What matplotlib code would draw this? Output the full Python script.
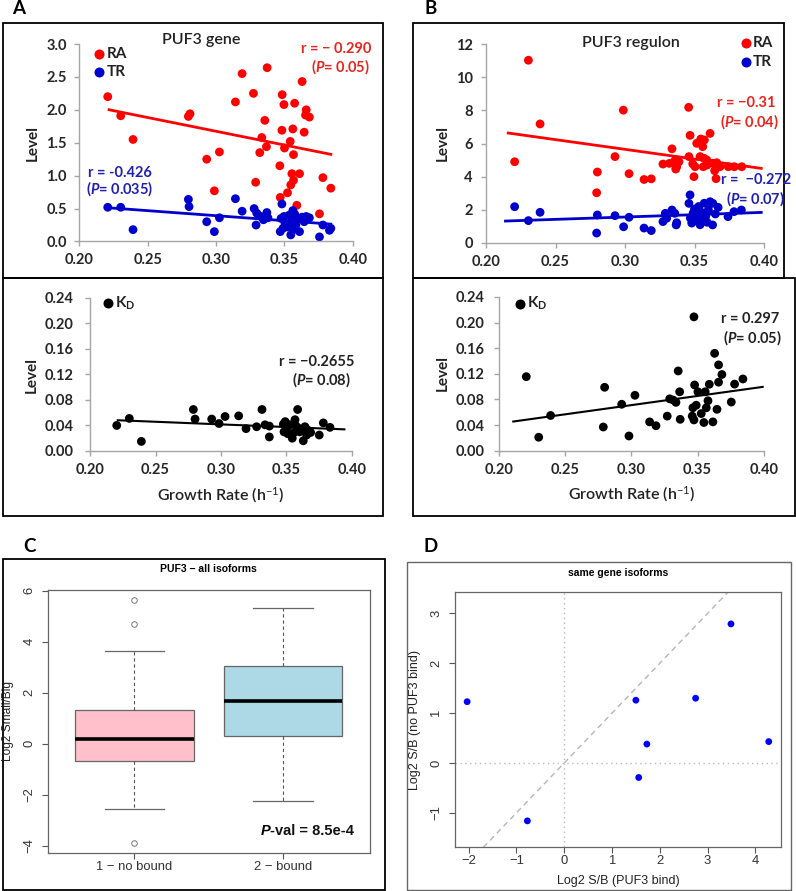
import numpy as np
import matplotlib
matplotlib.use("Agg")
import matplotlib.pyplot as plt
from matplotlib.patches import Rectangle
from matplotlib.lines import Line2D

plt.rcParams['font.family'] = ['Lato', 'DejaVu Sans']
plt.rcParams['mathtext.fontset'] = 'custom'
plt.rcParams['mathtext.rm'] = 'Lato'
plt.rcParams['mathtext.it'] = 'Lato:italic:bold'
plt.rcParams['mathtext.bf'] = 'Lato:bold'

# ---------------- data ----------------
# A top: PUF3 gene, growth rate vs level
a_ra_rate = [0.2208, 0.2303, 0.2393, 0.2798, 0.2810, 0.2932, 0.2988, 0.3025, 0.3142, 0.3191,
             0.3274, 0.3290, 0.3320, 0.3335, 0.3357, 0.3369, 0.3374, 0.3470, 0.3467, 0.3484,
             0.3482, 0.3497, 0.3501, 0.3523, 0.3543, 0.3547, 0.3555, 0.3562, 0.3567, 0.3567,
             0.3575, 0.3591, 0.3611, 0.3630, 0.3645, 0.3660, 0.3655, 0.3683, 0.3757, 0.3782, 0.3840]
a_ra_level = [2.20, 1.91, 1.55, 1.90, 1.94, 1.25, 0.77, 1.36, 2.12, 2.55,
              2.25, 0.90, 1.35, 1.58, 1.84, 1.44, 2.64, 0.67, 1.15, 2.23,
              1.69, 2.08, 1.42, 0.74, 1.52, 0.86, 1.03, 1.71, 0.93, 1.32,
              2.10, 0.55, 1.03, 2.43, 1.66, 2.00, 1.92, 1.89, 0.42, 0.97, 0.81]
a_tr_rate = [0.2208, 0.2303, 0.2393, 0.2798, 0.2803, 0.2932, 0.2988, 0.3025, 0.3142, 0.3191,
             0.3279, 0.3293, 0.3298, 0.3318, 0.3347, 0.3372, 0.3380, 0.3470, 0.3476, 0.3482,
             0.3490, 0.3497, 0.3505, 0.3523, 0.3535, 0.3547, 0.3555, 0.3562, 0.3567, 0.3575,
             0.3584, 0.3600, 0.3611, 0.3630, 0.3645, 0.3660, 0.3683, 0.3757, 0.3782, 0.3840, 0.3830]
a_tr_level = [0.52, 0.52, 0.18, 0.64, 0.53, 0.30, 0.15, 0.36, 0.65, 0.46,
              0.50, 0.25, 0.43, 0.39, 0.33, 0.44, 0.36, 0.15, 0.35, 0.57,
              0.20, 0.38, 0.28, 0.22, 0.40, 0.10, 0.30, 0.47, 0.18, 0.42,
              0.25, 0.35, 0.15, 0.37, 0.30, 0.38, 0.36, 0.07, 0.25, 0.20, 0.17]

# B top: PUF3 regulon
b_ra_rate = [0.2206, 0.2305, 0.2389, 0.2796, 0.2801, 0.2928, 0.2988, 0.3029, 0.3137, 0.3189,
             0.3273, 0.3319, 0.3338, 0.3358, 0.3372, 0.3388, 0.3365, 0.3458, 0.3468, 0.3460,
             0.3487, 0.3496, 0.3504, 0.3516, 0.3545, 0.3559, 0.3571, 0.3612, 0.3540, 0.3568,
             0.3588, 0.3563, 0.3590, 0.3631, 0.3660, 0.3683, 0.3645, 0.3655, 0.3743, 0.3786, 0.3840]
b_ra_level = [4.90, 11.02, 7.18, 3.03, 4.28, 5.21, 8.01, 4.18, 3.83, 3.87,
              4.76, 4.80, 5.68, 4.96, 4.60, 4.90, 4.46, 8.18, 6.49, 5.21,
              4.77, 4.00, 4.60, 6.01, 6.27, 5.81, 6.21, 6.61, 5.21, 5.11,
              5.01, 4.60, 4.70, 4.81, 4.84, 4.60, 4.36, 3.88, 4.60, 4.60, 4.60]
b_tr_rate = [0.2206, 0.2305, 0.2389, 0.2796, 0.2801, 0.2928, 0.2990, 0.3029, 0.3137, 0.3189,
             0.3273, 0.3290, 0.3300, 0.3338, 0.3358, 0.3372, 0.3368, 0.3468, 0.3460, 0.3470,
             0.3480, 0.3490, 0.3500, 0.3510, 0.3520, 0.3530, 0.3540, 0.3550, 0.3560, 0.3570,
             0.3580, 0.3590, 0.3600, 0.3612, 0.3630, 0.3632, 0.3650, 0.3670, 0.3741, 0.3784, 0.3837]
b_tr_level = [2.19, 1.35, 1.85, 0.60, 1.69, 1.65, 0.98, 1.55, 0.90, 0.75,
              1.29, 1.79, 1.49, 1.99, 1.79, 1.22, 1.09, 2.90, 2.39, 1.50,
              1.20, 1.80, 2.05, 1.35, 1.65, 2.20, 1.10, 1.85, 1.45, 2.40,
              1.60, 1.25, 2.00, 2.49, 1.09, 2.39, 1.75, 2.15, 1.59, 1.89, 1.99]

# A bottom / B bottom: KD
a_kd_rate = [0.2204, 0.2300, 0.2392, 0.2789, 0.2802, 0.2929, 0.2985, 0.3031, 0.3135, 0.3191,
             0.3272, 0.3313, 0.3336, 0.3369, 0.3369, 0.3476, 0.3481, 0.3490, 0.3502, 0.3510,
             0.3527, 0.3544, 0.3552, 0.3565, 0.3570, 0.3585, 0.3590, 0.3600, 0.3628, 0.3641,
             0.3654, 0.3660, 0.3684, 0.3750, 0.3781, 0.3832]
a_kd_level = [0.040, 0.051, 0.015, 0.065, 0.050, 0.050, 0.043, 0.054, 0.055, 0.035,
              0.038, 0.065, 0.041, 0.039, 0.022, 0.042, 0.030, 0.046, 0.036, 0.027,
              0.041, 0.020, 0.028, 0.049, 0.040, 0.065, 0.036, 0.030, 0.016, 0.038,
              0.025, 0.033, 0.029, 0.025, 0.044, 0.037]
b_kd_rate = [0.2206, 0.2300, 0.2390, 0.2798, 0.2788, 0.2927, 0.2982, 0.3027, 0.3138, 0.3186,
             0.3271, 0.3290, 0.3317, 0.3337, 0.3354, 0.3365, 0.3369, 0.3473, 0.3478, 0.3465,
             0.3460, 0.3473, 0.3490, 0.3503, 0.3528, 0.3548, 0.3558, 0.3566, 0.3579, 0.3589,
             0.3616, 0.3629, 0.3659, 0.3659, 0.3647, 0.3684, 0.3755, 0.3780, 0.3843]
b_kd_level = [0.1156, 0.021, 0.055, 0.099, 0.037, 0.0725, 0.023, 0.0865, 0.045, 0.039,
              0.054, 0.081, 0.079, 0.0755, 0.1245, 0.092, 0.049, 0.209, 0.1026, 0.067,
              0.054, 0.048, 0.071, 0.092, 0.058, 0.044, 0.092, 0.067, 0.078, 0.1037,
              0.045, 0.152, 0.134, 0.107, 0.0646, 0.119, 0.076, 0.104, 0.112]

# C: boxplot summary
c_groups = ['1 \u2212 no bound', '2 \u2212 bound']
c_whislo = [-2.56, -2.27]
c_q1 = [-0.70, 0.29]
c_med = [0.18, 1.65]
c_q3 = [1.30, 3.03]
c_whishi = [3.64, 5.33]
c_fliers = [[5.64, 4.70, -3.89], []]

# D: same gene isoforms
d_bind = [-2.03, -0.77, 1.50, 1.73, 1.56, 2.75, 3.49, 4.28]
d_nobind = [1.23, -1.16, 1.26, 0.38, -0.29, 1.30, 2.79, 0.43]

# ---------------- styling ----------------
W, H = 796, 891
RED = '#ff0000'
BLUE = '#0000cc'
RED_TXT = '#e8251f'
BLUE_TXT = '#2020b0'
AXIS_GREY = '#a6a6a6'
ARIAL = ['Liberation Sans', 'DejaVu Sans']

fig = plt.figure(figsize=(W / 100, H / 100), dpi=100)


def add_ax(x0, y0, x1, y1):
    # pixel box: left, top, right, bottom
    return fig.add_axes([x0 / W, 1 - y1 / H, (x1 - x0) / W, (y1 - y0) / H])


def label(px, py, s, **kw):
    kw.setdefault('ha', 'center')
    kw.setdefault('va', 'center')
    return fig.text(px / W, 1 - py / H, s, **kw)


def frame(x0, y0, x1, y1, lw=1.3, ec='black'):
    fig.add_artist(Rectangle((x0 / W, 1 - y1 / H), (x1 - x0) / W, (y1 - y0) / H,
                             fill=False, lw=lw, ec=ec, transform=fig.transFigure))


def legend_dot(px, py, color, text):
    fig.add_artist(Line2D([px / W], [1 - py / H], marker='o', ms=7.2, color=color,
                          mec='none', transform=fig.transFigure))
    label(px + 7.5, py, text, ha='left', fontsize=11, fontweight='bold', color='#222222')


def excel_style(ax, ylim, yticks, yfmt, ypad):
    ax.set_xlim(0.20, 0.40)
    ax.set_ylim(*ylim)
    xt = [0.20, 0.25, 0.30, 0.35, 0.40]
    ax.set_xticks(xt, [f'{v:.2f}' for v in xt], fontweight='bold')
    ax.set_yticks(yticks, [yfmt.format(v) for v in yticks], fontweight='bold')
    for s in ('top', 'right'):
        ax.spines[s].set_visible(False)
    for s in ('left', 'bottom'):
        ax.spines[s].set_color(AXIS_GREY)
        ax.spines[s].set_linewidth(1)
    ax.tick_params(axis='both', direction='out', length=3.5, width=1, color=AXIS_GREY,
                   labelsize=10.5, labelcolor='#262626')
    ax.tick_params(axis='y', pad=ypad)
    ax.tick_params(axis='x', pad=5)
    ax.patch.set_alpha(0)


def trend(ax, x, y, span, color, lw):
    k, b = np.polyfit(x, y, 1)
    xs = np.array(span)
    ax.plot(xs, k * xs + b, color=color, lw=lw, solid_capstyle='butt', zorder=3)


def dots(ax, x, y, color, s=40):
    ax.scatter(x, y, s=s, color=color, edgecolors='none', zorder=2, clip_on=False)


# ---------------- panel frames ----------------
frame(3, 23, 383, 278)
frame(3, 278, 383, 516)
frame(413, 23, 784, 278)
frame(413, 278, 795, 516)
frame(3, 559, 385, 890)
frame(407, 562, 791, 890, lw=1.0, ec='#666666')

for px, py, s in [(19, 9, 'A'), (431, 8, 'B'), (30, 547, 'C'), (431, 547, 'D')]:
    label(px, py, s, fontsize=13.5, fontweight='bold')

# ---------------- A top ----------------
ax = add_ax(79.3, 44, 352.7, 241.5)
excel_style(ax, (0, 3.0), [0, 0.5, 1.0, 1.5, 2.0, 2.5, 3.0], '{:.1f}', 5.5)
dots(ax, a_ra_rate, a_ra_level, RED)
dots(ax, a_tr_rate, a_tr_level, BLUE)
trend(ax, a_ra_rate, a_ra_level, [0.2208, 0.385], RED, 2.0)
trend(ax, a_tr_rate, a_tr_level, [0.2208, 0.385], BLUE, 2.0)
label(201, 40, 'PUF3 gene', fontsize=11.5, fontweight='semibold', color='#222222')
legend_dot(99, 54.3, RED, 'RA')
legend_dot(99, 72.3, BLUE, 'TR')
label(371.7, 48.7, 'r = \u2212 0.290', ha='right', fontsize=10.5, fontweight='bold', color=RED_TXT)
label(370, 66.7, '($P$= 0.05)', ha='right', fontsize=10.5, fontweight='bold', color=RED_TXT)
label(120, 172.7, 'r = -0.426', fontsize=10.5, fontweight='bold', color=BLUE_TXT)
label(119.5, 189, '($P$= 0.035)', fontsize=10.5, fontweight='bold', color=BLUE_TXT)
label(33, 143, 'Level', rotation=90, fontsize=11, fontweight='bold', color='#222222')

# ---------------- B top ----------------
ax = add_ax(486, 44, 764, 243)
excel_style(ax, (0, 12), [0, 2, 4, 6, 8, 10, 12], '{:d}', 6)
dots(ax, b_ra_rate, b_ra_level, RED)
dots(ax, b_tr_rate, b_tr_level, BLUE)
trend(ax, b_ra_rate, b_ra_level, [0.215, 0.399], RED, 2.0)
trend(ax, b_tr_rate, b_tr_level, [0.213, 0.399], BLUE, 2.0)
label(630.5, 42.7, 'PUF3 regulon', fontsize=11.5, fontweight='semibold', color='#222222')
legend_dot(745.7, 42.7, RED, 'RA')
legend_dot(745.7, 61.7, BLUE, 'TR')
label(775.7, 102.7, 'r = \u22120.31', ha='right', fontsize=10.5, fontweight='bold', color=RED_TXT)
label(779, 121.7, '($P$= 0.04)', ha='right', fontsize=10.5, fontweight='bold', color=RED_TXT)
label(791, 180, 'r =  \u22120.272', ha='right', fontsize=10.5, fontweight='bold', color=BLUE_TXT)
label(784.7, 199, '($P$= 0.07)', ha='right', fontsize=10.5, fontweight='bold', color=BLUE_TXT)
label(443, 143, 'Level', rotation=90, fontsize=11, fontweight='bold', color='#222222')

# ---------------- A bottom ----------------
kd_ticks = [0.0, 0.04, 0.08, 0.12, 0.16, 0.20, 0.24]
ax = add_ax(90, 297.7, 352, 451)
excel_style(ax, (0, 0.24), kd_ticks, '{:.2f}', 8.5)
dots(ax, a_kd_rate, a_kd_level, 'black')
trend(ax, a_kd_rate, a_kd_level, [0.2204, 0.395], 'black', 1.5)
legend_dot(107.7, 303.3, 'black', r'$\mathbf{K}_\mathbf{D}$')
label(354, 361.7, 'r = \u22120.2655', ha='right', fontsize=10.5, fontweight='bold', color='#222222')
label(350.7, 380, '($P$= 0.08)', ha='right', fontsize=10.5, fontweight='bold', color='#222222')
label(31.7, 375, 'Level', rotation=90, fontsize=11, fontweight='bold', color='#222222')
label(220.7, 495, 'Growth Rate (h$^{-1}$)', fontsize=11.5, fontweight='semibold', color='#222222')

# ---------------- B bottom ----------------
ax = add_ax(499, 297, 763.7, 450.7)
excel_style(ax, (0, 0.24), kd_ticks, '{:.2f}', 7)
dots(ax, b_kd_rate, b_kd_level, 'black')
trend(ax, b_kd_rate, b_kd_level, [0.21, 0.40], 'black', 1.5)
legend_dot(519.7, 303.7, 'black', r'$\mathbf{K}_\mathbf{D}$')
label(779, 319.3, 'r = 0.297', ha='right', fontsize=10.5, fontweight='bold', color='#222222')
label(782, 337.3, '($P$= 0.05)', ha='right', fontsize=10.5, fontweight='bold', color='#222222')
label(442.3, 373, 'Level', rotation=90, fontsize=11, fontweight='bold', color='#222222')
label(631.3, 494.3, 'Growth Rate (h$^{-1}$)', fontsize=11.5, fontweight='semibold', color='#222222')


def r_style(ax):
    for s in ax.spines.values():
        s.set_color('#666666')
        s.set_linewidth(0.9)
    ax.tick_params(axis='both', direction='out', length=4.3, width=0.8, color='#555555',
                   labelcolor='#333333')
    ax.tick_params(axis='x', pad=1.5)
    ax.tick_params(axis='y', pad=4.5)
    for t in ax.get_yticklabels():
        t.set_rotation(90)
        t.set_va('center')


def minus(v):
    return f'{v:g}'.replace('-', '\u2212')


# ---------------- C ----------------
ax = add_ax(47.7, 590, 370, 852.7)
stats = []
for i, g in enumerate(c_groups):
    stats.append(dict(label=g, whislo=c_whislo[i], q1=c_q1[i], med=c_med[i],
                      q3=c_q3[i], whishi=c_whishi[i], fliers=c_fliers[i]))
bp = ax.bxp(stats, positions=[1, 2], widths=0.8, capwidths=0.4, patch_artist=True,
            boxprops=dict(edgecolor='#666666', lw=0.9),
            whiskerprops=dict(ls=(0, (3, 2.5)), color='#555555', lw=0.8),
            capprops=dict(color='#666666', lw=0.9),
            medianprops=dict(color='black', lw=2.6, solid_capstyle='butt'),
            flierprops=dict(marker='o', mfc='none', mec='#777777', ms=4, mew=0.7))
for patch, col in zip(bp['boxes'], ['#ffc0cb', '#add8e6']):
    patch.set_facecolor(col)
ax.set_xlim(0.418, 2.585)
ax.set_ylim(-4.28, 6.02)
ax.set_xticks([1, 2], c_groups, fontsize=9.4, family=ARIAL)
cy = [-4, -2, 0, 2, 4, 6]
ax.set_yticks(cy, [minus(v) for v in cy], fontsize=9.4, family=ARIAL)
r_style(ax)
label(208.7, 569, 'PUF3 \u2212 all isoforms', fontsize=7.5, fontweight='bold', family=ARIAL)
label(8.3, 721, 'Log2 Small/Big', rotation=90, fontsize=8.6, family=ARIAL, color='#222222')
label(270, 831, 'P', ha='right', fontsize=10.5, fontweight='bold', style='italic', family=ARIAL)
label(270, 831, '-val = 8.5e-4', ha='left', fontsize=10.5, fontweight='bold', family=ARIAL,
      color='#111111')

# ---------------- D ----------------
ax = add_ax(454.7, 592, 780.7, 847.3)
ax.set_xlim(-2.29, 4.53)
ax.set_ylim(-1.69, 3.43)
ax.axhline(0, ls=(0, (1, 2.5)), color='#bbbbbb', lw=1.0, zorder=1)
ax.axvline(0, ls=(0, (1, 2.5)), color='#bbbbbb', lw=1.0, zorder=1)
ax.axline((0, 0), slope=1, ls=(0, (4, 3)), color='#b5b5b5', lw=1.0, zorder=1)
ax.scatter(d_bind, d_nobind, s=24, color='#0000ff', edgecolors='none', zorder=3)
dx = [-2, -1, 0, 1, 2, 3, 4]
dy = [-1, 0, 1, 2, 3]
ax.set_xticks(dx, [minus(v) for v in dx], fontsize=9.4, family=ARIAL)
ax.set_yticks(dy, [minus(v) for v in dy], fontsize=9.4, family=ARIAL)
r_style(ax)
label(618, 573, 'same gene isoforms', fontsize=7.5, fontweight='bold', family=ARIAL)
label(618, 881, 'Log2 S/B (PUF3 bind)', fontsize=9, family=ARIAL, color='#222222')
label(415, 720, 'Log2 S/B (no PUF3 bind)', rotation=90, fontsize=9, family=ARIAL,
      color='#222222')

fig.savefig('out.png', dpi=100)
